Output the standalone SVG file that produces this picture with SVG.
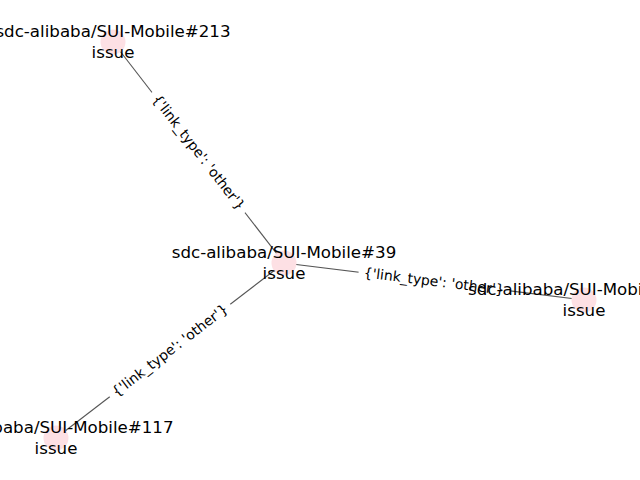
<svg xmlns="http://www.w3.org/2000/svg" width="640" height="480" viewBox="0 0 640 480">
<style>
.edge{stroke:#555555;stroke-width:1.1;fill:none}
.node{fill:#fde0e4;stroke:none}
.nl{font-family:"DejaVu Sans",sans-serif;font-size:16.67px;fill:#000;text-anchor:middle}
.el{font-family:"DejaVu Sans",sans-serif;font-size:13.9px;fill:#000;text-anchor:middle}
.box{fill:#fff;stroke:none}
</style>
<rect width="640" height="480" fill="#fff"/>
<g id="connectors">
<line class="edge" x1="113" y1="42" x2="284" y2="263"/>
<line class="edge" x1="284" y1="263" x2="584" y2="300"/>
<line class="edge" x1="284" y1="263" x2="56" y2="438"/>
</g>
<g id="node-213"><circle class="node" cx="113" cy="42" r="12.5"/></g>
<g id="node-39"><circle class="node" cx="284" cy="263" r="12.5"/></g>
<g id="node-right"><circle class="node" cx="584" cy="300" r="12.5"/></g>
<g id="node-117"><circle class="node" cx="56" cy="438" r="12.5"/></g>
<g id="edge-labels">
<g transform="translate(198.5,152.5) rotate(52.3)">
<rect class="box" x="-76" y="-11" width="152" height="22" rx="5"/>
<text class="el" x="0" y="4.5">{'link_type': 'other'}</text>
</g>
<g transform="translate(434,281.5) rotate(7.03)">
<rect class="box" x="-76" y="-11" width="152" height="22" rx="5"/>
<text class="el" x="0" y="4.5">{'link_type': 'other'}</text>
</g>
<g transform="translate(170,350.5) rotate(-37.5)">
<rect class="box" x="-76" y="-11" width="152" height="22" rx="5"/>
<text class="el" x="0" y="4.5">{'link_type': 'other'}</text>
</g>
</g>
<g id="node-labels">
<text class="nl" x="113" y="37">sdc-alibaba/SUI-Mobile#213</text>
<text class="nl" x="113" y="57.5">issue</text>
<text class="nl" x="284" y="258">sdc-alibaba/SUI-Mobile#39</text>
<text class="nl" x="284" y="278.5">issue</text>
<text class="nl" x="468" y="295" style="text-anchor:start">sdc-alibaba/SUI-Mobile</text>
<text class="nl" x="584" y="315.5">issue</text>
<text class="nl" x="56" y="433">sdc-alibaba/SUI-Mobile#117</text>
<text class="nl" x="56" y="453.5">issue</text>
</g>
</svg>
